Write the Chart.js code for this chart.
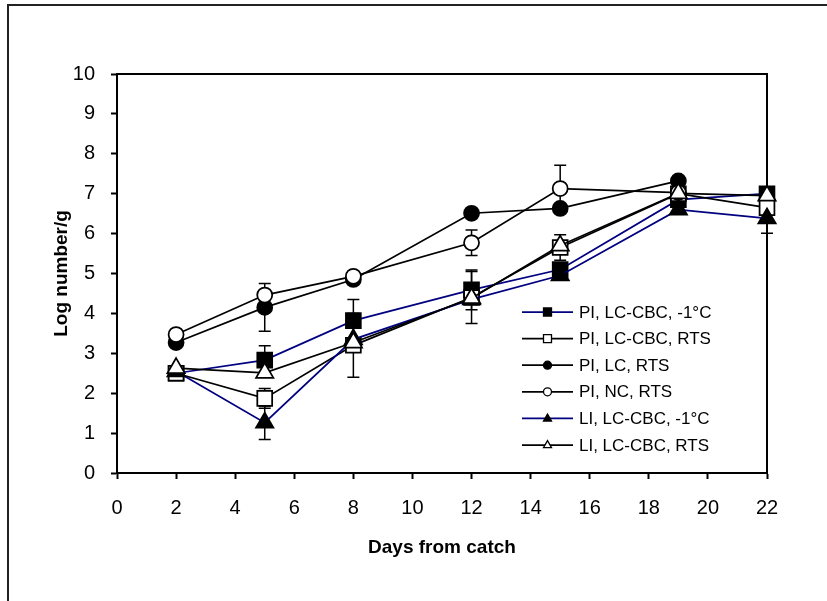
<!DOCTYPE html>
<html>
<head>
<meta charset="utf-8">
<title>Log number/g vs days from catch</title>
<script src="https://cdn.jsdelivr.net/npm/chart.js@4.4.0/dist/chart.umd.min.js"></script>
<style>
  body { margin: 0; background: #fff; }
  #wrap { width: 827px; height: 601px; position: relative; }
</style>
</head>
<body>
<div id="wrap"><canvas id="myChart" width="827" height="601"></canvas></div>
<script>
// x values (days from catch)
const days = [2, 5, 8, 12, 15, 19, 22];

// series values (log number/g)
const piCbcCold = [2.5, 2.83, 3.82, 4.59, 5.1, 6.85, 7.0];
const piCbcRts  = [2.5, 1.87, 3.2, 4.4, 5.65, 7.0, 6.65];
const piLcRts   = [3.27, 4.15, 4.85, 6.51, 6.63, 7.32, null];
const piNcRts   = [3.47, 4.46, 4.93, 5.77, 7.13, 7.03, null];
const liCbcCold = [2.55, 1.26, 3.35, 4.35, 4.95, 6.6, 6.38];
const liCbcRts  = [2.63, 2.51, 3.27, 4.38, 5.7, 7.01, 6.95];

// error bar sizes (+/-), 0 = none visible
const errPiCbcCold = [0, 0.36, 0.53, 0.5, 0.15, 0, 0];
const errPiCbcRts  = [0, 0.25, 0.8, 0.65, 0.32, 0, 0];
const errPiLcRts   = [0, 0.6, 0, 0, 0, 0, 0];
const errPiNcRts   = [0, 0, 0, 0.32, 0.58, 0, 0];
const errLiCbcCold = [0, 0.42, 0, 0, 0, 0, 0.37];
const errLiCbcRts  = [0, 0, 0, 0, 0, 0, 0];

const seriesLabels = ['PI, LC-CBC, -1°C', 'PI, LC-CBC, RTS', 'PI, LC, RTS', 'PI, NC, RTS', 'LI, LC-CBC, -1°C', 'LI, LC-CBC, RTS'];

const xTicks = [0, 2, 4, 6, 8, 10, 12, 14, 16, 18, 20, 22];
const yTicks = [0, 1, 2, 3, 4, 5, 6, 7, 8, 9, 10];

const NAVY = '#000080';

function toPoints(vals){
    let pts = [];
    for(let i = 0; i < days.length; i += 1){
        if(vals[i] !== null){
            pts.push({x: days[i], y: vals[i]});
        }
    }
    return pts;
}

function makeSet(idx, vals, errs, color, style, filled, radius){
    return {
        label: seriesLabels[idx],
        data: toPoints(vals),
        errors: errs,
        values: vals,
        borderColor: color,
        borderWidth: 1.75,
        pointStyle: style,
        pointRadius: radius,
        pointHoverRadius: radius,
        pointBackgroundColor: filled ? '#000' : '#fff',
        pointBorderColor: '#000',
        pointBorderWidth: 1.75,
        fill: false,
        tension: 0,
        clip: false,     // markers on the right axis must not be cut
        order: 6 - idx,  // later series on top like excel
        legendFilled: filled
    };
}

// draws one little marker for the legend
function drawMarker(ctx, style, x, y, r, filled){
    ctx.save();
    ctx.fillStyle = filled ? '#000' : '#fff';
    ctx.strokeStyle = '#000';
    ctx.lineWidth = 1.3;
    ctx.beginPath();
    if(style === 'rect'){
        ctx.rect(x - r, y - r, 2 * r, 2 * r);
    } else if(style === 'circle'){
        ctx.arc(x, y, r, 0, Math.PI * 2);
    } else {
        ctx.moveTo(x, y - r * 1.1);
        ctx.lineTo(x + r, y + r * 0.65);
        ctx.lineTo(x - r, y + r * 0.65);
        ctx.closePath();
    }
    ctx.fill();
    ctx.stroke();
    ctx.restore();
}

const frameAndBox = {
    id: 'frameAndBox',
    beforeDraw(chart){
        const ctx = chart.ctx;
        ctx.save();
        ctx.fillStyle = '#fff';
        ctx.fillRect(0, 0, chart.width, chart.height);
        // outer frame (only left + top are inside the picture)
        ctx.strokeStyle = '#222';
        ctx.lineWidth = 2;
        ctx.beginPath();
        ctx.moveTo(8, chart.height);
        ctx.lineTo(8, 5);
        ctx.lineTo(chart.width, 5);
        ctx.stroke();
        ctx.restore();
    },
    beforeDatasetsDraw(chart){
        const ctx = chart.ctx;
        const a = chart.chartArea;
        ctx.save();
        ctx.strokeStyle = '#000';
        ctx.lineWidth = 2;
        ctx.beginPath();
        ctx.moveTo(a.left, a.top);
        ctx.lineTo(a.right, a.top);
        ctx.lineTo(a.right, a.bottom);
        ctx.stroke();
        ctx.restore();
    }
};

const errorBars = {
    id: 'errorBars',
    beforeDatasetsDraw(chart){
        const ctx = chart.ctx;
        const xs = chart.scales.x;
        const ys = chart.scales.y;
        ctx.save();
        ctx.strokeStyle = '#000';
        ctx.lineWidth = 1.5;
        chart.data.datasets.forEach(function(ds){
            for(let i = 0; i < days.length; i += 1){
                const e = ds.errors[i];
                if(!e || ds.values[i] === null) continue;
                const px = xs.getPixelForValue(days[i]);
                const top = ys.getPixelForValue(ds.values[i] + e);
                const bot = ys.getPixelForValue(ds.values[i] - e);
                ctx.beginPath();
                ctx.moveTo(px, top); ctx.lineTo(px, bot);
                ctx.moveTo(px - 6, top); ctx.lineTo(px + 6, top);
                ctx.moveTo(px - 6, bot); ctx.lineTo(px + 6, bot);
                ctx.stroke();
            }
        });
        ctx.restore();
    }
};

// legend inside the plot, line + marker + text like the excel one
const boxLegend = {
    id: 'boxLegend',
    afterDraw(chart){
        const ctx = chart.ctx;
        const x0 = 522, x1 = 573, tx = 579;
        let y = 312;
        ctx.save();
        ctx.font = '17px "Liberation Sans", Arial, sans-serif';
        ctx.textBaseline = 'middle';
        ctx.fillStyle = '#000';
        chart.data.datasets.forEach(function(ds){
            ctx.strokeStyle = ds.borderColor;
            ctx.lineWidth = 1.75;
            ctx.beginPath();
            ctx.moveTo(x0, y); ctx.lineTo(x1, y);
            ctx.stroke();
            drawMarker(ctx, ds.pointStyle, (x0 + x1) / 2, y, 4, ds.legendFilled);
            ctx.fillText(ds.label, tx, y + 1);
            y += 26.6;
        });
        ctx.restore();
    }
};

const ctx = document.getElementById('myChart').getContext('2d');
const myChart = new Chart(ctx, {
    type: 'line',
    data: {
        datasets: [
            makeSet(0, piCbcCold, errPiCbcCold, NAVY, 'rect', true, 10.5),
            makeSet(1, piCbcRts, errPiCbcRts, '#000', 'rect', false, 10.5),
            makeSet(2, piLcRts, errPiLcRts, '#000', 'circle', true, 7.5),
            makeSet(3, piNcRts, errPiNcRts, '#000', 'circle', false, 7.5),
            makeSet(4, liCbcCold, errLiCbcCold, NAVY, 'triangle', true, 10),
            makeSet(5, liCbcRts, errLiCbcRts, '#000', 'triangle', false, 10)
        ]
    },
    options: {
        responsive: false,
        animation: false,
        events: [],
        layout: { padding: { left: 0, top: 74, right: 60, bottom: 0 } },
        plugins: {
            legend: { display: false },
            tooltip: { enabled: false }
        },
        scales: {
            x: {
                type: 'linear',
                min: 0,
                max: 22,
                afterBuildTicks: function(scale){
                    scale.ticks = xTicks.map(function(v){ return {value: v}; });
                },
                afterFit: function(scale){ scale.height = 128; },
                ticks: {
                    color: '#000',
                    font: { family: '"Liberation Sans", Arial, sans-serif', size: 20 },
                    padding: 17,
                    maxRotation: 0
                },
                grid: { drawOnChartArea: false, drawTicks: true, tickLength: 6, tickColor: '#000', tickWidth: 2 },
                border: { color: '#000', width: 2 },
                title: {
                    display: true,
                    text: 'Days from catch',
                    color: '#000',
                    font: { family: '"Liberation Sans", Arial, sans-serif', size: 19, weight: 'bold' },
                    padding: { top: 0, bottom: 42 }
                }
            },
            y: {
                min: 0,
                max: 10,
                afterBuildTicks: function(scale){
                    scale.ticks = yTicks.map(function(v){ return {value: v}; });
                },
                afterFit: function(scale){ scale.width = 117; },
                ticks: {
                    color: '#000',
                    font: { family: '"Liberation Sans", Arial, sans-serif', size: 20 },
                    padding: 16
                },
                grid: { drawOnChartArea: false, drawTicks: true, tickLength: 6, tickColor: '#000', tickWidth: 2 },
                border: { color: '#000', width: 2 },
                title: {
                    display: true,
                    text: 'Log number/g',
                    color: '#000',
                    font: { family: '"Liberation Sans", Arial, sans-serif', size: 19, weight: 'bold' },
                    padding: { top: 50, bottom: 0 }
                }
            }
        }
    },
    plugins: [frameAndBox, errorBars, boxLegend]
});
</script>
</body>
</html>
